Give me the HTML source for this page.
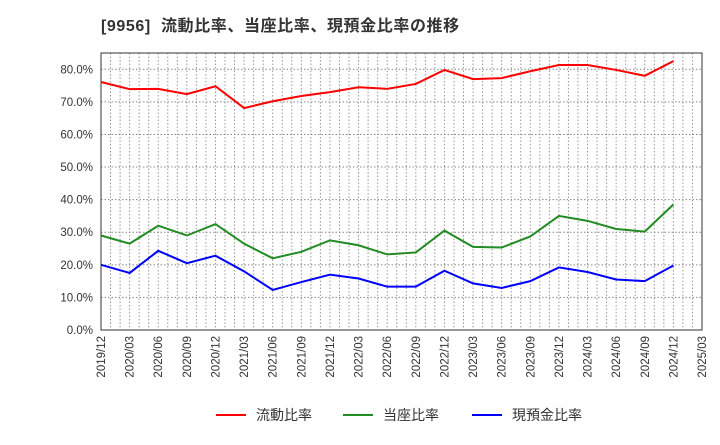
<!DOCTYPE html>
<html><head><meta charset="utf-8">
<style>
body{margin:0;background:#fff;font-family:"Liberation Sans","Noto Sans CJK JP",sans-serif;}
#wrap{position:relative;width:720px;height:440px;}
</style></head>
<body>
<div id="wrap">
<svg id="chart" width="720" height="440" xmlns="http://www.w3.org/2000/svg">
<text x="101" y="31" font-size="16" font-weight="bold" fill="#333" letter-spacing="0.6" font-family="Liberation Sans, Noto Sans CJK JP, sans-serif" xml:space="preserve">[9956]  流動比率、当座比率、現預金比率の推移</text>
</svg>
</div>
<script>
const categories=["2019/12","2020/03","2020/06","2020/09","2020/12","2021/03","2021/06","2021/09","2021/12","2022/03","2022/06","2022/09","2022/12","2023/03","2023/06","2023/09","2023/12","2024/03","2024/06","2024/09","2024/12","2025/03"];
const currentRatio=[76.1,73.9,74.0,72.4,74.8,68.1,70.2,71.8,73.0,74.5,74.0,75.5,79.8,77.0,77.3,79.4,81.3,81.3,79.8,78.0,82.5];
const quickRatio=[29,26.5,32,29,32.5,26.5,22,24,27.5,26,23.2,23.8,30.5,25.5,25.3,28.7,35,33.5,31,30.2,38.5];
const cashRatio=[20,17.5,24.3,20.5,22.8,18,12.3,14.7,17,15.8,13.3,13.3,18.2,14.3,12.9,15,19.2,17.8,15.5,15,19.8];
const yTicks=[0,10,20,30,40,50,60,70,80];
const seriesNames=["流動比率","当座比率","現預金比率"];
const colors=["#ff0000","#228b22","#0000ff"];
const L=101,R=702,T=53,B=330,YMAX=85;
const svg=document.getElementById('chart');
const NS="http://www.w3.org/2000/svg";
const step=(R-L)/(categories.length-1);
function xs(i){return L+i*step;}
function ys(v){return B-(v/YMAX)*(B-T);}
function mk(tag,attrs){const e=document.createElementNS(NS,tag);for(const k in attrs)e.setAttribute(k,attrs[k]);svg.appendChild(e);return e;}
for(let m=0;m<=(categories.length-1)*3;m++){
  const x=L+m*step/3;
  const g=mk('line',{x1:x,x2:x,y1:T,y2:B,stroke:'#999','stroke-width':1,'stroke-dasharray':'1.5,2'});
  
  
}
yTicks.forEach(v=>{
  const y=ys(v);
  const g=mk('line',{x1:L,x2:R,y1:y,y2:y,stroke:'#888','stroke-width':1,'stroke-dasharray':'1.5,2'});
  
  
  const t=mk('text',{x:L-8,y:y+4,'text-anchor':'end','font-size':11.5,fill:'#333'});
  t.textContent=v.toFixed(1)+'%';
  
  
});
categories.forEach((c,i)=>{
  const x=xs(i);
  const t=mk('text',{x:x+4,y:B+6,'text-anchor':'end','font-size':11.5,fill:'#333',transform:`rotate(-90 ${x+4} ${B+6})`});
  t.textContent=c;
  
  
});
const frame=mk('rect',{x:L,y:T,width:R-L,height:B-T,fill:'none',stroke:'#333','stroke-width':1});


[currentRatio,quickRatio,cashRatio].forEach((s,k)=>{
  const p=mk('polyline',{points:s.map((v,i)=>xs(i)+','+ys(v)).join(' '),fill:'none',stroke:colors[k],'stroke-width':2});
  
  
});
const lx=[216,343,472];
seriesNames.forEach((n,k)=>{
  const l=mk('line',{x1:lx[k],x2:lx[k]+30,y1:415,y2:415,stroke:colors[k],'stroke-width':2});
  
  
  const t=mk('text',{x:lx[k]+40,y:420,'font-size':14,fill:'#333'});
  t.textContent=n;
  
  
});
</script>
</body></html>
